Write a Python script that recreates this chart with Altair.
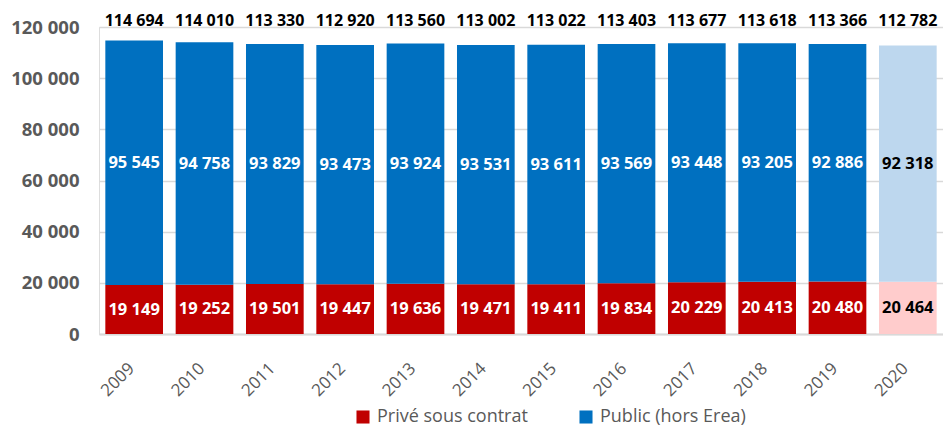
import altair as alt
import pandas as pd

years = ["2009", "2010", "2011", "2012", "2013", "2014", "2015", "2016", "2017", "2018", "2019", "2020"]
prive = [19149, 19252, 19501, 19447, 19636, 19471, 19411, 19834, 20229, 20413, 20480, 20464]
public = [95545, 94758, 93829, 93473, 93924, 93531, 93611, 93569, 93448, 93205, 92886, 92318]
totals = [114694, 114010, 113330, 112920, 113560, 113002, 113022, 113403, 113677, 113618, 113366, 112782]

S_PRIVE = "Privé sous contrat"
S_PUBLIC = "Public (hors Erea)"
HILITE = "2020"

def fmt(v):
    return f"{v:,}".replace(",", " ")

rows = []
for y, p, q in zip(years, prive, public):
    late = y == HILITE
    rows.append({"year": y, "serie": S_PRIVE, "cat": S_PRIVE + (" 2020" if late else ""),
                 "value": p, "ord": 0, "y0": 0, "y1": p, "mid": p / 2, "label": fmt(p)})
    rows.append({"year": y, "serie": S_PUBLIC, "cat": S_PUBLIC + (" 2020" if late else ""),
                 "value": q, "ord": 1, "y0": p, "y1": p + q, "mid": p + q / 2, "label": fmt(q)})
df = pd.DataFrame(rows)
tot = pd.DataFrame({"year": years, "total": totals, "label": [fmt(t) for t in totals]})

FONT = "Open Sans"
GRAY = "#595959"

x = alt.X("year:N", title=None, sort=years,
          scale=alt.Scale(paddingInner=0.18, paddingOuter=0.09),
          axis=alt.Axis(labelAngle=-45, labelFontSize=17, labelColor=GRAY, labelFont=FONT,
                        labelAlign="right", labelBaseline="top", labelPadding=26,
                        ticks=False, domainColor="#D9D9D9", domainWidth=2, labelOffset=-8))

color_scale = alt.Scale(domain=[S_PRIVE, S_PUBLIC, S_PRIVE + " 2020", S_PUBLIC + " 2020"],
                        range=["#C00000", "#0070C0", "#FFCCCC", "#BDD7EE"])

bars = alt.Chart(df).mark_bar().encode(
    x=x,
    y=alt.Y("y0:Q", title=None,
            scale=alt.Scale(domain=[0, 120000], nice=False),
            axis=alt.Axis(values=[0, 20000, 40000, 60000, 80000, 100000, 120000],
                          labelExpr="replace(format(datum.value, ','), ',', ' ')",
                          labelFontSize=18.5, labelFontWeight="bold", labelColor=GRAY, labelFont=FONT,
                          domain=False, ticks=False, labelPadding=20,
                          gridColor="#D9D9D9", gridWidth=1.5)),
    y2="y1:Q",
    color=alt.Color("cat:N", scale=color_scale, title=None,
                    legend=alt.Legend(values=[S_PRIVE, S_PUBLIC], orient="none", direction="horizontal",
                                      legendX=255, legendY=381, symbolType="square", symbolSize=170,
                                      symbolStrokeWidth=0, labelFontSize=18, labelColor=GRAY,
                                      labelFont=FONT, columnPadding=49, labelOffset=5)),
)

seg_labels = alt.Chart(df).mark_text(fontSize=16.5, fontWeight="bold", font=FONT).encode(
    x=alt.X("year:N", sort=years),
    y=alt.Y("mid:Q"),
    text="label:N",
    color=alt.condition(alt.datum.year == HILITE, alt.value("black"), alt.value("white")),
)

tot_labels = alt.Chart(tot).mark_text(fontSize=16, fontWeight="bold", font=FONT, baseline="bottom").encode(
    x=alt.X("year:N", sort=years),
    y=alt.value(2),
    text="label:N",
    color=alt.value("black"),
)

chart = alt.layer(bars, seg_labels, tot_labels).properties(
    width=844, height=307,
    padding={"left": 91, "top": 19, "right": 0, "bottom": 94},
    autosize=alt.AutoSizeParams(type="none"),
).configure_view(stroke=None).configure(background="white")

chart.save("out.html", embed_options={"renderer": "svg", "actions": False})
